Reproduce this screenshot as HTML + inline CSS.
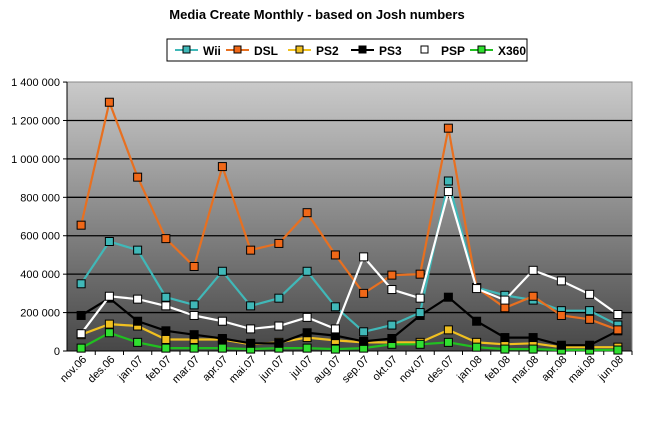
<!DOCTYPE html>
<html><head><meta charset="utf-8"><style>
body{margin:0;background:#fff;}
svg text{font-family:"Liberation Sans",Arial,sans-serif;}
</style></head><body>
<svg id="c" width="656" height="430" xmlns="http://www.w3.org/2000/svg">
<defs><linearGradient id="g" x1="0" y1="0" x2="0" y2="1">
<stop offset="0" stop-color="#cacaca"/><stop offset="1" stop-color="#474747"/></linearGradient></defs>
<text x="317" y="19" text-anchor="middle" font-size="13" font-weight="bold">Media Create Monthly - based on Josh numbers</text>
<rect x="167" y="39" width="360" height="22" fill="#fff" stroke="#000"/>
<rect x="67" y="82" width="565" height="269" fill="url(#g)" stroke="#888"/>
</svg>
<script>
var s=document.getElementById('c'),NS='http://www.w3.org/2000/svg';
function el(t,a,txt){var e=document.createElementNS(NS,t);for(var k in a)e.setAttribute(k,a[k]);if(txt)e.textContent=txt;s.appendChild(e);return e;}
function Y(v){return 351-v*0.1921;}
for(var i=0;i<=7;i++){var y=Y(i*200);
 if(i>0&&i<7)el('line',{x1:67,x2:632,y1:y,y2:y,stroke:'#000','stroke-width':1.3});
 el('line',{x1:63,x2:67,y1:y,y2:y,stroke:'#000'});
 var lab=i==0?'0':(i*200>=1000?'1 '+String(i*200-1000).padStart(3,'0')+' 000':(i*200)+' 000');
 el('text',{x:60,y:y+4,'text-anchor':'end','font-size':11},lab);}
el('line',{x1:67,x2:632,y1:351,y2:351,stroke:'#000'});
el('line',{x1:67,x2:67,y1:82,y2:351,stroke:'#000'});
var cats=['nov.06','des.06','jan.07','feb.07','mar.07','apr.07','mai.07','jun.07','jul.07','aug.07','sep.07','okt.07','nov.07','des.07','jan.08','feb.08','mar.08','apr.08','mai.08','jun.08'];
var w=565/20;
cats.forEach(function(c,i){var x=67+w*(i+1);el('line',{x1:x,x2:x,y1:351,y2:355,stroke:'#000'});
 var cx=67+w*(i+0.5)+6;el('text',{x:cx,y:360,'text-anchor':'end','font-size':11,transform:'rotate(-45 '+cx+' 360)'},c);});
var S=[
['PS2','#f0c020','#f0c020',[85,140,130,60,60,60,35,45,70,55,45,45,45,110,45,35,40,20,20,20]],
['X360','#20c020','#30e030',[15,95,45,15,15,15,10,15,15,10,15,35,35,45,20,10,10,5,5,5]],
['PS3','#000','#000',[185,275,155,105,85,65,40,40,95,80,50,65,185,280,155,70,70,30,30,105]],
['Wii','#40b8b8','#40b8b8',[350,570,525,280,240,415,235,275,415,230,100,135,200,885,330,290,265,210,210,135]],
['DSL','#e87020','#f06818',[655,1295,905,585,440,960,525,560,720,500,300,395,400,1160,330,225,285,185,165,110]],
['PSP','#fff','#fff',[90,285,270,235,185,155,115,130,175,115,490,320,275,830,325,265,420,365,295,190]]];
S.forEach(function(sr){var p=sr[3].map(function(v,i){return (67+w*(i+0.5)).toFixed(1)+','+Y(v).toFixed(1);});
 el('polyline',{points:p.join(' '),fill:'none',stroke:sr[1],'stroke-width':2.2});
 sr[3].forEach(function(v,i){el('rect',{x:67+w*(i+0.5)-4,y:Y(v)-4,width:8,height:8,fill:sr[2],stroke:'#000','stroke-width':1});});});
var L=[['Wii','#40b8b8','#40b8b8',175],['DSL','#e87020','#f06818',226],['PS2','#f0c020','#f0c020',288],['PS3','#000','#000',351],['PSP','#fff','#fff',413],['X360','#20c020','#30e030',470]];
L.forEach(function(l){el('line',{x1:l[3],x2:l[3]+23,y1:50,y2:50,stroke:l[1]=='#fff'?'#fff':l[1],'stroke-width':2});
 el('rect',{x:l[3]+8,y:46,width:7,height:7,fill:l[2],stroke:'#000'});
 el('text',{x:l[3]+28,y:55,'font-size':12,'font-weight':'bold'},l[0]);});
</script>
</body></html>
